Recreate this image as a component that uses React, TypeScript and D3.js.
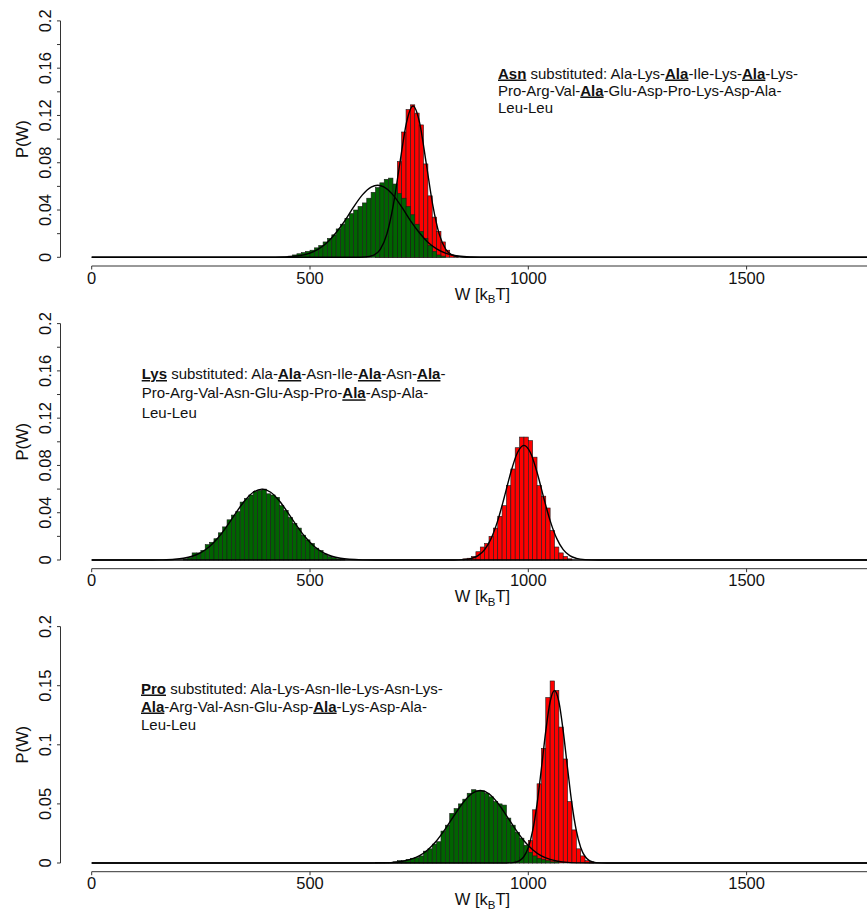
import React from 'react';
import * as d3 from 'd3';

// bin width of all histograms, kBT
const binWidth = 10;

// Asn substituted
const asnGreenStart = 450;
const asnGreen = [0.001, 0.002, 0.003, 0.004, 0.005, 0.006, 0.008, 0.010, 0.013, 0.016, 0.019, 0.024, 0.028, 0.033, 0.037, 0.040, 0.043, 0.046, 0.050, 0.055, 0.059, 0.063, 0.066, 0.067, 0.062, 0.054, 0.050, 0.043, 0.036, 0.028, 0.022, 0.016, 0.010, 0.005, 0.002, 0.001];
const asnRedStart = 650;
const asnRed = [0.001, 0.003, 0.008, 0.018, 0.055, 0.081, 0.106, 0.125, 0.129, 0.122, 0.112, 0.079, 0.052, 0.034, 0.022, 0.013, 0.006, 0.002, 0.001];
const asnGreenFit = [[0, 0], [400, 0], [440, 0.0003], [470, 0.0011], [500, 0.0036], [520, 0.0071], [540, 0.0128], [560, 0.021], [580, 0.031], [600, 0.0426], [620, 0.0528], [640, 0.0594], [655, 0.061], [670, 0.0594], [690, 0.0528], [710, 0.0426], [730, 0.031], [750, 0.021], [770, 0.0128], [790, 0.0071], [810, 0.0036], [840, 0.0011], [870, 0.0003], [910, 0], [1900, 0]];
const asnRedFit = [[0, 0], [600, 0], [626, 0.0002], [646, 0.0019], [661, 0.0068], [676, 0.0196], [691, 0.0446], [706, 0.080], [721, 0.114], [736, 0.128], [751, 0.114], [766, 0.080], [781, 0.0446], [796, 0.0196], [811, 0.0068], [826, 0.0019], [846, 0.0002], [870, 0], [1900, 0]];
const asnLabel = ['**Asn** substituted: Ala-Lys-**Ala**-Ile-Lys-**Ala**-Lys-', 'Pro-Arg-Val-**Ala**-Glu-Asp-Pro-Lys-Asp-Ala-', 'Leu-Leu'];

// Lys substituted
const lysGreenStart = 210;
const lysGreen = [0.001, 0.002, 0.006, 0.006, 0.008, 0.013, 0.015, 0.018, 0.023, 0.028, 0.034, 0.038, 0.041, 0.049, 0.052, 0.055, 0.058, 0.059, 0.060, 0.056, 0.055, 0.053, 0.046, 0.042, 0.036, 0.031, 0.027, 0.021, 0.017, 0.014, 0.010, 0.008, 0.005, 0.003, 0.002, 0.001, 0.0005];
const lysRedStart = 850;
const lysRed = [0.001, 0.0015, 0.003, 0.007, 0.011, 0.014, 0.020, 0.027, 0.037, 0.046, 0.063, 0.077, 0.095, 0.104, 0.104, 0.101, 0.087, 0.063, 0.054, 0.044, 0.025, 0.011, 0.006, 0.003, 0.001];
const lysGreenFit = [[0, 0], [140, 0], [160, 0.0001], [190, 0.0006], [210, 0.0015], [230, 0.0032], [250, 0.0063], [270, 0.0115], [290, 0.019], [310, 0.0288], [330, 0.0397], [350, 0.0499], [370, 0.0573], [390, 0.060], [410, 0.0573], [430, 0.0499], [450, 0.0397], [470, 0.0288], [490, 0.019], [510, 0.0115], [530, 0.0063], [550, 0.0032], [570, 0.0015], [590, 0.0006], [620, 0.0001], [650, 0], [1900, 0]];
const lysRedFit = [[0, 0], [830, 0], [850, 0.0003], [870, 0.0014], [885, 0.0037], [900, 0.0088], [915, 0.0183], [930, 0.0333], [945, 0.0531], [960, 0.0742], [975, 0.0907], [990, 0.097], [1005, 0.0907], [1020, 0.0742], [1035, 0.0531], [1050, 0.0333], [1065, 0.0183], [1080, 0.0088], [1095, 0.0037], [1110, 0.0014], [1130, 0.0003], [1160, 0], [1900, 0]];
const lysLabel = ['**Lys** substituted: Ala-**Ala**-Asn-Ile-**Ala**-Asn-**Ala**-', 'Pro-Arg-Val-Asn-Glu-Asp-Pro-**Ala**-Asp-Ala-', 'Leu-Leu'];

// Pro substituted
const proGreenStart = 650;
const proGreen = [0.0003, 0.0003, 0.0003, 0.0005, 0.001, 0.002, 0.002, 0.003, 0.004, 0.0045, 0.006, 0.010, 0.012, 0.016, 0.018, 0.027, 0.032, 0.042, 0.046, 0.050, 0.054, 0.059, 0.062, 0.061, 0.061, 0.059, 0.056, 0.052, 0.050, 0.049, 0.038, 0.032, 0.026, 0.021, 0.015, 0.009, 0.006, 0.004, 0.003, 0.002, 0.001, 0.001];
const proRedStart = 960;
const proRed = [0.001, 0.002, 0.005, 0.010, 0.019, 0.045, 0.067, 0.097, 0.140, 0.154, 0.146, 0.115, 0.088, 0.052, 0.028, 0.012, 0.006, 0.002, 0.001];
const proGreenFit = [[0, 0], [640, 0], [660, 0.0001], [690, 0.0005], [710, 0.0013], [730, 0.0030], [750, 0.0060], [770, 0.0112], [790, 0.0188], [810, 0.0288], [830, 0.0401], [850, 0.0508], [870, 0.0586], [890, 0.0614], [910, 0.0586], [930, 0.0508], [950, 0.0401], [970, 0.0288], [990, 0.0188], [1010, 0.0112], [1030, 0.0060], [1050, 0.0030], [1070, 0.0013], [1090, 0.0005], [1120, 0.0001], [1150, 0], [1900, 0]];
const proRedFit = [[0, 0], [940, 0], [965, 0.0003], [980, 0.0020], [990, 0.0055], [1000, 0.0131], [1010, 0.0273], [1020, 0.0498], [1030, 0.0799], [1040, 0.1116], [1050, 0.1365], [1060, 0.146], [1070, 0.1365], [1080, 0.1116], [1090, 0.0799], [1100, 0.0498], [1110, 0.0273], [1120, 0.0131], [1130, 0.0055], [1140, 0.0020], [1155, 0.0003], [1180, 0], [1900, 0]];
const proLabel = ['**Pro** substituted: Ala-Lys-Asn-Ile-Lys-Asn-Lys-', '**Ala**-Arg-Val-Asn-Glu-Asp-**Ala**-Lys-Asp-Ala-', 'Leu-Leu'];

// axis ticks
const xTicks = [0, 500, 1000, 1500];
const yTicksFine = [0, 0.02, 0.04, 0.06, 0.08, 0.1, 0.12, 0.14, 0.16, 0.18, 0.2];
const yLabelsFine = [0, 0.04, 0.08, 0.12, 0.16, 0.2];
const yTicksCoarse = [0, 0.05, 0.1, 0.15, 0.2];

const font = 'Liberation Sans, Arial, Helvetica, sans-serif';
const W = 867;
const H = 911;

const x = d3.scaleLinear().domain([0, 500]).range([91.7, 310]);

const panels = [
  { y0: 257.3, green: asnGreen, gStart: asnGreenStart, red: asnRed, rStart: asnRedStart, gFit: asnGreenFit, rFit: asnRedFit,
    label: asnLabel, lx: 498, ly: 78.5, lh: 17, ticks: yTicksFine, tickLabels: yLabelsFine },
  { y0: 560, green: lysGreen, gStart: lysGreenStart, red: lysRed, rStart: lysRedStart, gFit: lysGreenFit, rFit: lysRedFit,
    label: lysLabel, lx: 141.7, ly: 379, lh: 19.3, ticks: yTicksFine, tickLabels: yLabelsFine },
  { y0: 863, green: proGreen, gStart: proGreenStart, red: proRed, rStart: proRedStart, gFit: proGreenFit, rFit: proRedFit,
    label: proLabel, lx: 141, ly: 693.5, lh: 18, ticks: yTicksCoarse, tickLabels: yTicksCoarse },
];

function Bars({ values, start, y, fill }) {
  const bw = x(binWidth) - x(0);
  return (
    <g fill={fill} stroke="#1b1b1b" strokeWidth={0.6}>
      {values.map((v, i) => (
        <rect key={i} x={x(start + i * binWidth)} y={y(v)} width={bw} height={y(0) - y(v)} />
      ))}
    </g>
  );
}

function Label({ lines, lx, ly, lh }) {
  return (
    <text fontFamily={font} fontSize={15} fill="#111">
      {lines.map((ln, li) => (
        <tspan key={li} x={lx} y={ly + li * lh}>
          {ln.split('**').map((part, pi) =>
            pi % 2 === 1
              ? <tspan key={pi} fontWeight="bold" textDecoration="underline">{part}</tspan>
              : <tspan key={pi}>{part}</tspan>
          )}
        </tspan>
      ))}
    </text>
  );
}

function Panel({ p }) {
  const y = d3.scaleLinear().domain([0, 0.2]).range([p.y0, p.y0 - 236.4]);
  const fitLine = d3.line().x(d => x(d[0])).y(d => y(d[1])).curve(d3.curveMonotoneX);
  const axisY = p.y0 + 8.7;
  const fmt = v => String(+v.toFixed(2));
  return (
    <g>
      <Bars values={p.red} start={p.rStart} y={y} fill="#ff0000" />
      <Bars values={p.green} start={p.gStart} y={y} fill="#006400" />
      <path d={fitLine(p.rFit)} fill="none" stroke="#000" strokeWidth={1.4} />
      <path d={fitLine(p.gFit)} fill="none" stroke="#000" strokeWidth={1.4} />

      {/* y axis */}
      <line x1={60.5} x2={60.5} y1={y(0)} y2={y(0.2)} stroke="#333" />
      {p.ticks.map(t => (
        <line key={t} x1={57} x2={60.5} y1={y(t)} y2={y(t)} stroke="#333" />
      ))}
      {p.tickLabels.map(t => (
        <text key={t} transform={`translate(45,${y(t)}) rotate(-90)`} textAnchor="middle" dominantBaseline="central"
          fontFamily={font} fontSize={16.5} fill="#111">{fmt(t)}</text>
      ))}
      <text transform={`translate(22,${(y(0) + y(0.2)) / 2}) rotate(-90)`} textAnchor="middle" dominantBaseline="central"
        fontFamily={font} fontSize={16.5} fill="#111">P(W)</text>

      {/* x axis */}
      <line x1={x(0)} x2={x(1900)} y1={axisY} y2={axisY} stroke="#333" />
      {xTicks.map(t => (
        <g key={t}>
          <line x1={x(t)} x2={x(t)} y1={axisY} y2={axisY + 3.5} stroke="#333" />
          <text x={x(t)} y={axisY + 17.5} textAnchor="middle" fontFamily={font} fontSize={16.5} fill="#111">{t}</text>
        </g>
      ))}
      <text x={482.5} y={axisY + 33.5} textAnchor="middle" fontFamily={font} fontSize={16.5} fill="#111">
        W [k<tspan dy={3.5} fontSize={11.5}>B</tspan><tspan dy={-3.5}>T]</tspan>
      </text>

      <Label lines={p.label} lx={p.lx} ly={p.ly} lh={p.lh} />
    </g>
  );
}

export default function App() {
  return (
    <svg width={W} height={H} style={{ position: 'absolute', left: 0, top: 0, background: '#fff' }}>
      {panels.map((p, i) => <Panel key={i} p={p} />)}
    </svg>
  );
}
